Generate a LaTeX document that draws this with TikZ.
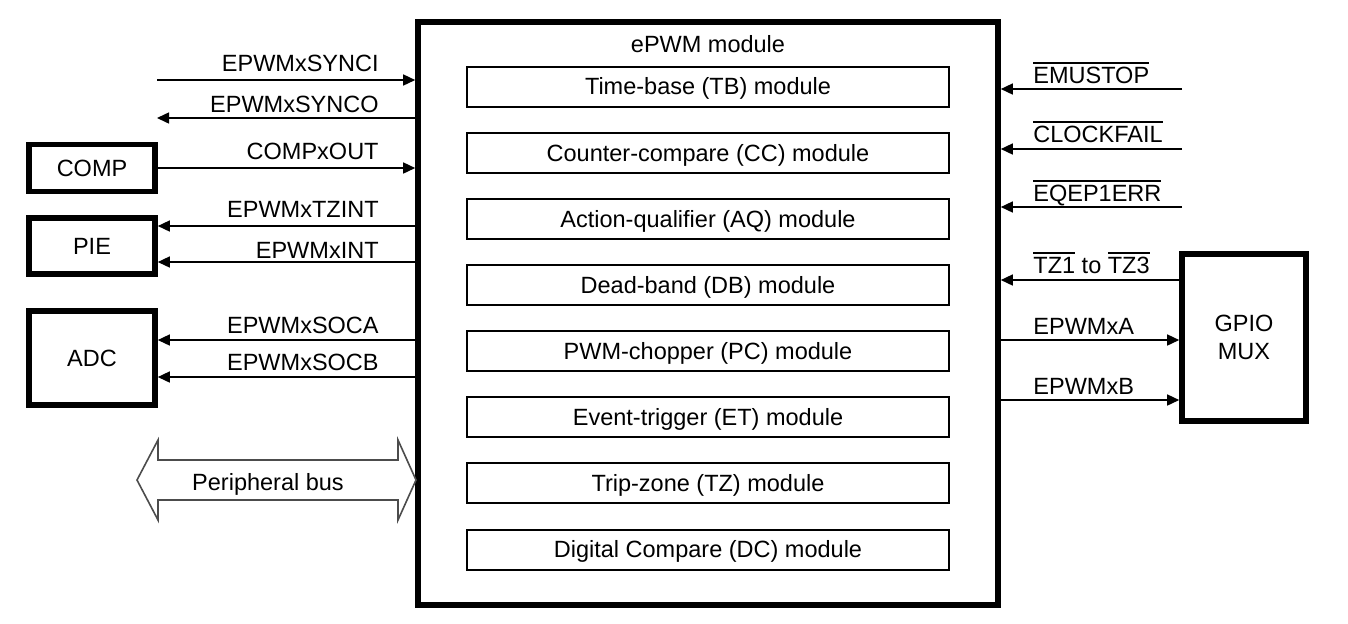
\documentclass[tikz,border=0pt]{standalone}
\usepackage{fontspec}
\setmainfont{Liberation Sans}
\usetikzlibrary{arrows.meta}
\newsavebox\ovlbox
\newcommand{\ovl}[1]{\sbox\ovlbox{#1}\rlap{\rule[9.4pt]{\wd\ovlbox}{0.9pt}}\usebox\ovlbox}

\begin{document}
\begin{tikzpicture}[x=0.5pt,y=-0.5pt,
  font=\fontsize{11.75}{14}\selectfont,
  >={Triangle[length=6pt,width=5.5pt]},
  sig/.style={line width=0.75pt},
  block/.style={draw,line width=2.8pt,align=center,inner sep=0pt},
  submod/.style={draw,line width=1pt,minimum width=241pt,minimum height=20pt,
    inner sep=0pt,text height=8.4pt,text depth=0pt},
  lbl/.style={inner sep=0pt}]
\useasboundingbox (0,0) rectangle (1348,623);

% ePWM module
\node[block,minimum width=290pt,minimum height=291.5pt] (epwm) at (708,313.5) {};
\node[lbl,anchor=base] (title) at (708,52) {ePWM module};
\foreach \name/\txt [count=\i from 0] in {tb/Time-base (TB) module,
    cc/Counter-compare (CC) module, aq/Action-qualifier (AQ) module,
    db/Dead-band (DB) module, pc/PWM-chopper (PC) module,
    et/Event-trigger (ET) module, tz/Trip-zone (TZ) module,
    dc/Digital Compare (DC) module}
  \node[submod] (\name) at (708,86.5+66.15*\i) {\txt};

% outer blocks
\node[block,minimum width=63pt,minimum height=23.5pt] (comp) at (92,168) {COMP};
\node[block,minimum width=63pt,minimum height=28pt] (pie) at (92,246) {PIE};
\node[block,minimum width=63pt,minimum height=47pt] (adc) at (92,358) {ADC};
\node[block,minimum width=62pt,minimum height=83.5pt] (gpio) at (1244,337.5) {GPIO\\MUX};

% left side
\coordinate (synci) at (157,80);
\coordinate (synco) at (157,118);
\draw[sig,->] (synci) -- (synci -| epwm.west);
\draw[sig,->] (synco -| epwm.west) -- (synco);
\draw[sig,->] (comp.east) -- (comp.east -| epwm.west);
\draw[sig,->] (epwm.west |- 0,226) -- (pie.east |- 0,226);
\draw[sig,->] (epwm.west |- 0,262) -- (pie.east |- 0,262);
\draw[sig,->] (epwm.west |- 0,340) -- (adc.east |- 0,340);
\draw[sig,->] (epwm.west |- 0,377) -- (adc.east |- 0,377);

\node[lbl,anchor=base east] at (379,71) {EPWMxSYNCI};
\node[lbl,anchor=base east] at (379,112) {EPWMxSYNCO};
\node[lbl,anchor=base east] at (379,159) {COMPxOUT};
\node[lbl,anchor=base east] at (379,217) {EPWMxTZINT};
\node[lbl,anchor=base east] at (379,258) {EPWMxINT};
\node[lbl,anchor=base east] at (379,333) {EPWMxSOCA};
\node[lbl,anchor=base east] at (379,370) {EPWMxSOCB};

% peripheral bus
\draw[line width=0.8pt,black!70] (137,480) -- (158,440) -- (158,460) -- (398,460)
  -- (398,440) -- (416,480) -- (398,520) -- (398,500) -- (158,500) -- (158,520) -- cycle;
\node[lbl,anchor=base] (bus) at (268,490) {Peripheral bus};

% right side
\coordinate (emu) at (1182,89);
\coordinate (clk) at (1182,149);
\coordinate (eqep) at (1182,207);
\draw[sig,->] (emu) -- (emu -| epwm.east);
\draw[sig,->] (clk) -- (clk -| epwm.east);
\draw[sig,->] (eqep) -- (eqep -| epwm.east);
\draw[sig,->] (gpio.west |- 0,280) -- (epwm.east |- 0,280);
\draw[sig,->] (epwm.east |- 0,340) -- (gpio.west |- 0,340);
\draw[sig,->] (epwm.east |- 0,400) -- (gpio.west |- 0,400);

\node[lbl,anchor=base west] at (1033,83) {\ovl{EMUSTOP}};
\node[lbl,anchor=base west] at (1033,142) {\ovl{CLOCKFAIL}};
\node[lbl,anchor=base west] at (1033,201) {\ovl{EQEP1ERR}};
\node[lbl,anchor=base west] at (1033,273) {\ovl{TZ1} to \ovl{TZ3}};
\node[lbl,anchor=base west] at (1033,334) {EPWMxA};
\node[lbl,anchor=base west] at (1033,394) {EPWMxB};
\end{tikzpicture}
\end{document}
